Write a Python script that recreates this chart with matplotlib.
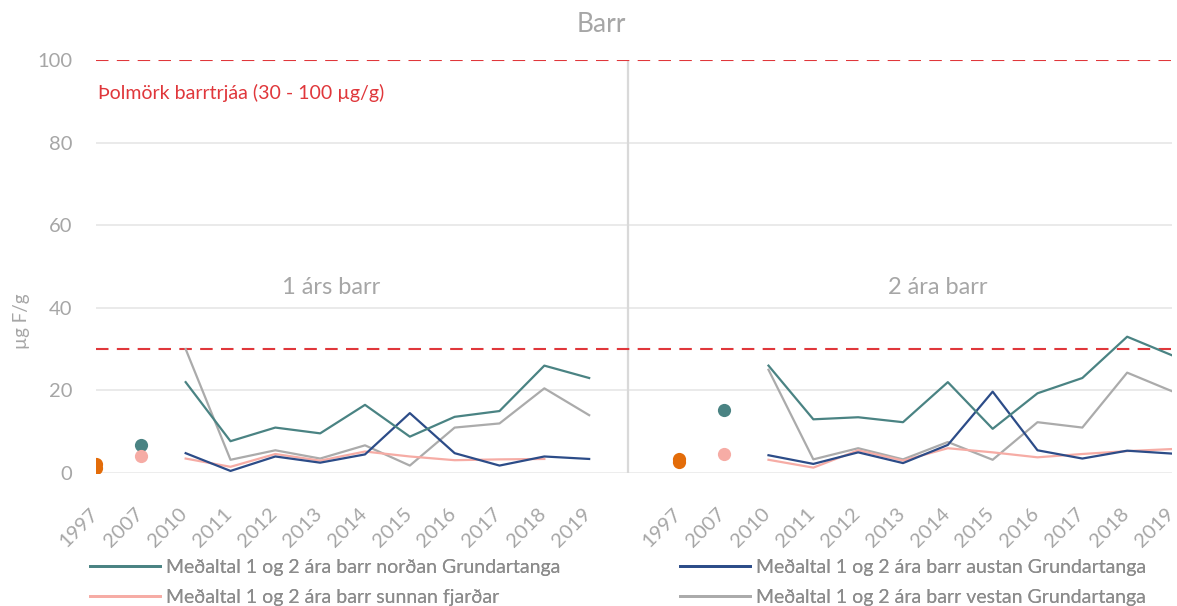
import numpy as np
import matplotlib
matplotlib.use("Agg")
import matplotlib.pyplot as plt
from matplotlib.lines import Line2D

plt.rcParams['font.family'] = ['Lato', 'DejaVu Sans']

# ---- data ----
years = ['1997', '2007', '2010', '2011', '2012', '2013', '2014', '2015',
         '2016', '2017', '2018', '2019']
panel_titles = ['1 árs barr', '2 ára barr']
nan = np.nan

# panel 1: 1 árs barr
nordan_1 = [nan, nan, 22.0, 7.7, 11.0, 9.6, 16.5, 8.8, 13.6, 15.0, 26.0, 23.0]
austan_1 = [nan, nan, 4.8, 0.5, 4.0, 2.5, 4.5, 14.5, 4.8, 1.8, 4.0, 3.4]
sunnan_1 = [nan, nan, 3.5, 1.5, 4.6, 3.0, 5.2, 4.0, 3.1, 3.3, 3.4, nan]
vestan_1 = [nan, nan, 30.0, 3.2, 5.5, 3.5, 6.7, 1.8, 11.0, 12.0, 20.5, 14.0]
# panel 2: 2 ára barr
nordan_2 = [nan, nan, 26.0, 13.0, 13.5, 12.3, 22.0, 10.7, 19.3, 23.0, 33.0, 28.5]
austan_2 = [nan, nan, 4.3, 2.2, 5.0, 2.4, 6.8, 19.7, 5.5, 3.5, 5.4, 4.7]
sunnan_2 = [nan, nan, 3.2, 1.3, 5.5, 3.0, 6.0, 5.0, 3.8, 4.6, 5.3, 5.8]
vestan_2 = [nan, nan, 25.0, 3.3, 6.0, 3.3, 7.5, 3.2, 12.3, 11.0, 24.3, 19.8]

# isolated early measurements (1997 and 2007)
orange_1997_1 = [2.2, 1.2]
orange_1997_2 = [3.4, 2.6]
nordan_2007 = [6.8, 15.2]
sunnan_2007 = [4.1, 4.6]

limit_low = 30
limit_high = 100
limit_label = 'Þolmörk barrtrjáa (30 - 100 µg/g)'

legend_labels = ['Meðaltal 1 og 2 ára barr norðan Grundartanga',
                 'Meðaltal 1 og 2 ára barr austan Grundartanga',
                 'Meðaltal 1 og 2 ára barr sunnan fjarðar',
                 'Meðaltal 1 og 2 ára barr vestan Grundartanga']

# ---- styles ----
c_teal = '#4A8383'
c_navy = '#2C4C88'
c_pink = '#F6ACA5'
c_gray = '#ABABAB'
c_orange = '#E36C09'
c_red = '#E0373B'
c_text = '#A6A6A6'
c_grid = '#E8E8E8'

W, H = 1177, 606
fig = plt.figure(figsize=(W / 100, H / 100), dpi=100)
ax = fig.add_axes([96 / W, (H - 473) / H, (1172 - 96) / W, (473 - 60) / H])

n = len(years)
x1 = np.arange(n)
x2 = np.arange(n) + n + 1
gap = n

ax.set_ylim(0, 100)
ax.set_xlim(0, 2 * n)
ax.set_yticks(np.arange(0, 101, 20))
for y in np.arange(20, 81, 20):
    ax.axhline(y, color=c_grid, lw=1.3, zorder=0)
ax.axhline(0, color=c_grid, lw=1.8, zorder=0)

ax.axhline(limit_high, color=c_red, lw=1.5, dashes=(6, 4), zorder=1)
ax.axhline(limit_low, color=c_red, lw=1.5, dashes=(6, 4), zorder=1)
ax.axvline(gap - 0.13, ymin=0, ymax=1, color='#D9D9D9', lw=1.6, zorder=0)

lw = 1.6
for xs, nd, au, su, ve in [(x1, nordan_1, austan_1, sunnan_1, vestan_1),
                           (x2, nordan_2, austan_2, sunnan_2, vestan_2)]:
    ax.plot(xs, ve, color=c_gray, lw=lw, zorder=2)
    ax.plot(xs, su, color=c_pink, lw=lw, zorder=3)
    ax.plot(xs, au, color=c_navy, lw=lw, zorder=4)
    ax.plot(xs, nd, color=c_teal, lw=lw, zorder=5)

ms = 9.5
for i, xs in enumerate([x1, x2]):
    o = [orange_1997_1, orange_1997_2][i]
    ax.plot([xs[0]] * len(o), o, 'o', color=c_orange, ms=ms, mec='none', zorder=6)
    ax.plot(xs[1], nordan_2007[i], 'o', color=c_teal, ms=ms, mec='none', zorder=6)
    ax.plot(xs[1], sunnan_2007[i], 'o', color=c_pink, ms=ms, mec='none', zorder=6)

# category labels along the x axis, rotated
ax.set_xticks(list(x1) + list(x2))
ax.set_xticklabels([])
for xv, lab in zip(list(x1) + list(x2), years + years):
    ax.annotate(lab, xy=(xv, 0), xycoords=('data', 'axes fraction'),
                xytext=(-5, -23), textcoords='offset points',
                rotation=45, ha='right', va='top', rotation_mode='anchor',
                color=c_text, fontsize=14.5, annotation_clip=False)
ax.tick_params(axis='x', length=0)
ax.tick_params(axis='y', length=0, pad=17, labelcolor=c_text, labelsize=14.5)
for s in ax.spines.values():
    s.set_visible(False)

ax.set_ylabel('µg F/g', color=c_text, fontsize=13.5)
ax.yaxis.set_label_coords(-(96 - 30) / (1172 - 96), (473 - 321) / 413)

ax.text(5.24, 45, panel_titles[0], ha='center', va='center', color=c_text, fontsize=17)
ax.text(18.77, 45, panel_titles[1], ha='center', va='center', color=c_text, fontsize=17)
ax.text(0.05, 92, limit_label, ha='left', va='center', color=c_red, fontsize=14)

fig.text(601 / W, 1 - 25 / H, 'Barr', ha='center', va='center', color=c_text, fontsize=19)

colors = [c_teal, c_navy, c_pink, c_gray]
handles = [Line2D([], [], color=c, lw=2) for c in colors]
col_x = [90 / W, 680 / W]
for ci in range(2):
    idx = [ci, ci + 2]
    leg = fig.legend([handles[i] for i in idx], [legend_labels[i] for i in idx],
                     loc='upper left', bbox_to_anchor=(col_x[ci], 1 - 559 / H),
                     frameon=False, fontsize=14, handlelength=3.6, borderpad=0,
                     borderaxespad=0, handletextpad=0.3, labelspacing=0.65)
    for t in leg.get_texts():
        t.set_color('#8C8C8C')
    fig.add_artist(leg)

fig.savefig('out.png', dpi=100)
